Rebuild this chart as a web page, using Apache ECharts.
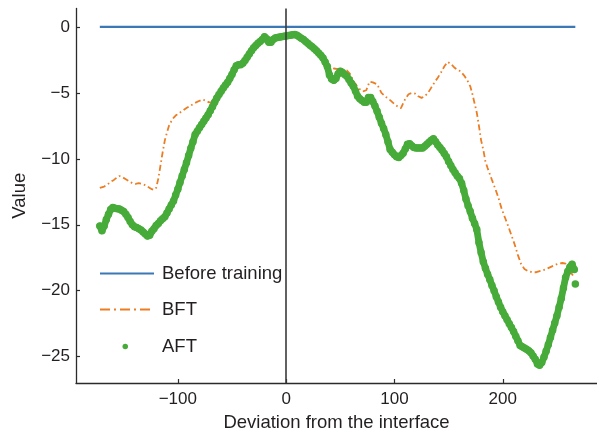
<!DOCTYPE html>
<html><head><meta charset="utf-8">
<script src="https://cdn.jsdelivr.net/npm/echarts@6/dist/echarts.min.js"></script>
<style>html,body{margin:0;padding:0;background:#fff}#c{width:597px;height:437px}</style>
</head><body><div id="c"></div>
<script>
const xTicks = [-100, 0, 100, 200];
const yTicks = [-25, -20, -15, -10, -5, 0];
const seriesNames = ['Before training', 'BFT', 'AFT'];

const beforeTraining = [[-172,0],[-100,0],[0,0],[100,0],[200,0],[267,0]];

const bft = [
[-172,-12.2],[-168,-12.1],[-165,-11.95],[-162,-11.75],[-159,-11.6],[-156,-11.4],[-154,-11.3],[-151,-11.4],
[-148,-11.55],[-145,-11.7],[-142,-11.85],[-139,-11.9],[-136,-11.85],[-133,-11.9],[-130,-12.0],[-127,-12.15],
[-124,-12.3],[-122,-12.35],[-120,-12.2],[-118,-11.5],[-116,-10.5],[-114,-9.5],[-112,-8.6],[-110,-8.0],
[-108,-7.45],[-106,-7.15],[-104,-6.9],[-102,-6.72],[-100,-6.6],[-96,-6.38],[-92,-6.15],[-88,-5.95],
[-84,-5.76],[-80,-5.6],[-77,-5.5],[-74,-5.6],[-71,-5.72],[-68,-5.7],[-65,-5.45],[-62,-5.1],[-58,-4.6],
[-54,-4.15],[-50,-3.55],[-46,-2.9],[-42,-2.8],[-38,-2.5],[-34,-2.0],[-30,-1.55],[-26,-1.2],[-22,-0.9],
[-20,-0.7],[-18,-0.85],[-15,-1.1],[-12,-0.9],[-8,-0.78],[-4,-0.72],[0,-0.66],[4,-0.6],[8,-0.55],[12,-0.7],
[16,-0.93],[20,-1.2],[24,-1.47],[28,-1.75],[32,-2.05],[35,-2.2],[38,-2.6],[41,-3.05],[44,-3.15],[48,-3.2],
[52,-3.22],[56,-3.3],[59,-3.55],[62,-4.1],[65,-4.45],[68,-4.72],[71,-4.88],[74,-4.8],[77,-4.15],[80,-4.2],
[84,-4.35],[88,-5.0],[92,-5.3],[96,-5.55],[100,-5.85],[104,-6.1],[106,-6.15],[108,-5.8],[110,-5.45],
[113,-5.1],[116,-5.0],[119,-5.05],[122,-5.25],[125,-5.38],[128,-5.25],[131,-5.0],[134,-4.6],[137,-4.2],
[140,-3.85],[143,-3.45],[146,-3.0],[149,-2.65],[152,-2.8],[155,-3.05],[158,-3.25],[161,-3.35],[164,-3.65],
[167,-4.0],[170,-4.5],[172,-5.1],[174,-5.8],[176,-6.5],[178,-7.5],[180,-8.6],[182,-9.3],[184,-10.2],
[186,-10.7],[188,-11.15],[190,-11.6],[193,-12.25],[196,-12.95],[199,-13.8],[202,-14.45],[205,-15.1],
[208,-15.8],[211,-16.5],[214,-17.3],[217,-18.0],[220,-18.35],[223,-18.5],[227,-18.6],[231,-18.6],
[235,-18.5],[239,-18.4],[243,-18.25],[247,-18.1],[251,-17.95],[255,-17.9],[258,-17.95],[260,-18.1],
[262,-18.5],[264,-18.75],[266,-19.0]
];

const aft = [
[-172,-15.1],[-170,-15.45],[-168,-15.1],[-166,-14.6],[-164,-14.2],[-162,-13.85],[-160,-13.7],[-158,-13.75],
[-156,-13.78],[-154,-13.8],[-152,-13.9],[-150,-14.0],[-148,-14.2],[-146,-14.45],[-144,-14.75],[-142,-15.0],
[-140,-15.15],[-138,-15.2],[-136,-15.3],[-134,-15.4],[-132,-15.55],[-130,-15.7],[-128,-15.85],[-126,-15.8],
[-124,-15.5],[-122,-15.3],[-120,-15.05],[-118,-14.9],[-116,-14.7],[-114,-14.55],[-112,-14.4],[-110,-14.1],
[-108,-13.8],[-106,-13.5],[-104,-13.2],[-102,-12.75],[-100,-12.3],[-98,-11.8],[-96,-11.3],[-94,-10.8],
[-92,-10.3],[-90,-9.75],[-88,-9.2],[-86,-8.7],[-84,-8.16],[-82,-7.9],[-80,-7.65],[-78,-7.4],[-76,-7.15],
[-74,-6.9],[-72,-6.65],[-70,-6.35],[-68,-6.05],[-66,-5.7],[-64,-5.38],[-62,-5.13],[-60,-4.88],[-58,-4.62],
[-56,-4.4],[-54,-4.2],[-52,-3.9],[-50,-3.6],[-48,-3.25],[-46,-2.95],[-44,-2.86],[-42,-2.86],[-40,-2.75],
[-38,-2.55],[-36,-2.3],[-34,-2.05],[-32,-1.8],[-30,-1.58],[-28,-1.4],[-26,-1.24],[-24,-1.1],[-22,-0.95],
[-20,-0.75],[-18,-0.9],[-16,-1.15],[-14,-1.15],[-12,-0.95],[-10,-0.83],[-8,-0.8],[-6,-0.77],[-4,-0.74],
[-2,-0.7],[0,-0.68],[2,-0.65],[4,-0.62],[6,-0.6],[8,-0.58],[10,-0.63],[12,-0.75],[14,-0.86],[16,-0.96],
[18,-1.1],[20,-1.24],[22,-1.38],[24,-1.5],[26,-1.65],[28,-1.8],[30,-1.98],[32,-2.15],[34,-2.35],[36,-2.65],
[38,-3.0],[40,-3.65],[42,-3.95],[44,-4.05],[46,-3.9],[48,-3.55],[50,-3.36],[52,-3.45],[54,-3.6],[56,-3.74],
[58,-3.98],[60,-4.25],[62,-4.5],[64,-4.85],[66,-5.25],[68,-5.45],[70,-5.58],[72,-5.7],[74,-5.7],[76,-5.35],
[78,-5.35],[80,-5.65],[82,-6.0],[84,-6.4],[86,-6.85],[88,-7.3],[90,-7.7],[92,-8.15],[94,-8.7],[96,-9.3],
[98,-9.5],[100,-9.7],[102,-9.85],[104,-9.9],[106,-9.75],[108,-9.57],[110,-9.25],[112,-8.9],[114,-8.85],
[116,-9.0],[118,-9.15],[120,-9.17],[122,-9.17],[124,-9.17],[126,-9.17],[128,-9.05],[130,-8.9],[132,-8.75],
[134,-8.6],[136,-8.48],[138,-8.7],[140,-8.95],[142,-9.15],[144,-9.35],[146,-9.6],[148,-9.85],[150,-10.2],
[152,-10.5],[154,-10.8],[156,-11.06],[158,-11.3],[160,-11.5],[162,-11.85],[164,-12.4],[166,-13.05],
[168,-13.55],[170,-14.0],[172,-14.5],[174,-14.9],[176,-15.36],[178,-16.35],[180,-17.1],[182,-17.8],
[184,-18.3],[186,-18.75],[188,-19.15],[190,-19.6],[192,-20.0],[194,-20.45],[196,-20.85],[198,-21.25],
[200,-21.6],[202,-21.9],[204,-22.2],[206,-22.5],[208,-22.8],[210,-23.1],[212,-23.45],[214,-23.8],
[216,-24.15],[218,-24.25],[220,-24.35],[222,-24.45],[224,-24.55],[226,-24.7],[228,-24.95],[230,-25.2],
[232,-25.55],[234,-25.65],[236,-25.45],[238,-25.05],[240,-24.6],[242,-24.1],[244,-23.55],[246,-23.0],
[248,-22.45],[250,-21.9],[252,-21.25],[254,-20.6],[256,-19.8],[258,-19.0],[260,-18.55],[262,-18.2],
[264,-18.0],[266,-18.4],[266.5,'-'],[267,-19.5]
];

const FONT = '"Liberation Sans", Arial, sans-serif';
const TXT = '#231f20';
const GREEN = '#47ab3a';
const fmt = v => String(v).replace('-', '\u2212');

const chart = echarts.init(document.getElementById('c'), null, {renderer: 'canvas'});
const legendText = {fontFamily: FONT, fontSize: 18.5, color: TXT, padding: [0, 0, 0, 3]};
const legendBase = {
  orient: 'vertical', left: 99, itemGap: 0, padding: 0,
  itemStyle: {opacity: 0},
  textStyle: legendText
};
chart.setOption({
  animation: false,
  backgroundColor: '#fff',
  grid: {left: 76, right: 0, top: 8.5, bottom: 54, containLabel: false},
  xAxis: {
    type: 'value', min: -194, max: 287,
    name: 'Deviation from the interface', nameLocation: 'middle', nameGap: 30,
    nameTextStyle: {fontFamily: FONT, fontSize: 18.5, color: TXT},
    axisLine: {show: true, onZero: false, lineStyle: {color: '#2b2b2b', width: 1.3}},
    axisTick: {show: true, inside: true, length: 4, customValues: xTicks, lineStyle: {color: '#2b2b2b', width: 1.2}},
    axisLabel: {customValues: xTicks, formatter: fmt, margin: 8, fontFamily: FONT, fontSize: 17, color: TXT},
    splitLine: {show: false}
  },
  yAxis: {
    type: 'value', min: -27, max: 1.4,
    name: 'Value', nameLocation: 'middle', nameGap: 47,
    nameTextStyle: {fontFamily: FONT, fontSize: 18.5, color: TXT},
    axisLine: {show: true, onZero: false, lineStyle: {color: '#2b2b2b', width: 1.3}},
    axisTick: {show: true, inside: true, length: 4, customValues: yTicks, lineStyle: {color: '#2b2b2b', width: 1.2}},
    axisLabel: {customValues: yTicks, formatter: fmt, margin: 6, fontFamily: FONT, fontSize: 17, color: TXT},
    splitLine: {show: false}
  },
  legend: [
    Object.assign({}, legendBase, {data: [seriesNames[0]], top: 264, itemWidth: 54, itemHeight: 14}),
    Object.assign({}, legendBase, {data: [seriesNames[1]], top: 300, itemWidth: 54, itemHeight: 14,
      lineStyle: {type: [10, 4, 2, 4], width: 2}}),
    Object.assign({}, legendBase, {data: [{name: seriesNames[2], icon: 'circle'}], left: 122.5, top: 337,
      itemWidth: 5.5, itemHeight: 5.5, itemStyle: {color: GREEN, opacity: 1},
      textStyle: Object.assign({}, legendText, {padding: [0, 0, 0, 29]})})
  ],
  series: [
    {name: seriesNames[0], type: 'line', data: beforeTraining, symbol: 'none', z: 2,
     lineStyle: {color: '#3b78b5', width: 2.3}, itemStyle: {color: '#3b78b5'}},
    {name: seriesNames[1], type: 'line', data: bft, symbol: 'none', z: 3,
     lineStyle: {color: '#ec7d23', width: 1.8, type: [6, 3, 1.6, 3]}, itemStyle: {color: '#ec7d23'}},
    {name: seriesNames[2], type: 'line', data: aft, symbol: 'circle', symbolSize: 7.5, showAllSymbol: true, z: 4,
     connectNulls: false,
     lineStyle: {color: GREEN, width: 6.8, cap: 'round', join: 'round'},
     itemStyle: {color: GREEN, opacity: 1},
     markLine: {silent: true, symbol: ['none', 'none'], label: {show: false}, z: 10,
       lineStyle: {color: '#3a3a3a', width: 1.6, type: 'solid'},
       emphasis: {disabled: true},
       data: [{xAxis: 0}]}}
  ]
});
</script>
</body></html>
